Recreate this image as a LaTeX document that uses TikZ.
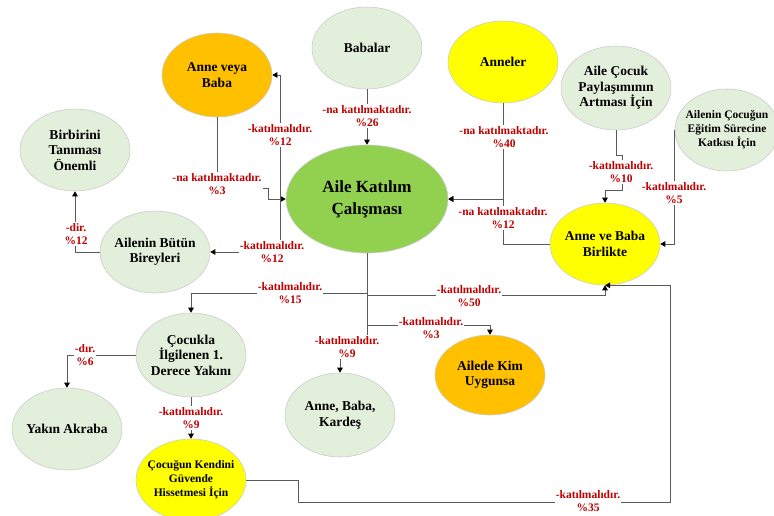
\documentclass[tikz,border=0pt]{standalone}
\usepackage{fontspec}
\setmainfont{Liberation Serif}
\usetikzlibrary{shapes.geometric,arrows.meta}
\definecolor{lgr}{HTML}{E2EFDA}
\definecolor{org}{HTML}{FFC000}
\definecolor{yel}{HTML}{FFFF00}
\definecolor{grn}{HTML}{92D050}
\definecolor{lred}{HTML}{C00000}
\definecolor{lgray}{HTML}{5A5A5A}
\begin{document}
\begin{tikzpicture}[x=1pt,y=-1pt,
 ell/.style={ellipse, draw=black!20, line width=0.6pt, inner xsep=-6pt, inner ysep=0pt,
   minimum width=110pt, minimum height=82pt, align=center,
   font=\bfseries\fontsize{13.5}{15.5}\selectfont},
 small/.style={font=\bfseries\fontsize{11.5}{14}\selectfont},
 lbl/.style={fill=white, inner sep=1pt, align=center, text=lred,
   font=\bfseries\fontsize{11.5}{13}\selectfont},
 conn/.style={draw=lgray, line width=0.9pt, -{Triangle[length=5pt,width=5.5pt,color=black]}},
 ]
\useasboundingbox (0,0) rectangle (774,515);
% nodes
\node[ell, fill=lgr] (bab) at (367,48) {Babalar};
\node[ell, fill=org, minimum height=84pt] (avb) at (217,75) {Anne veya\\Baba};
\node[ell, fill=yel] (ann) at (503,62) {Anneler};
\node[ell, fill=lgr, minimum height=84pt] (acp) at (616,88) {Aile Çocuk\\Paylaşımının\\Artması İçin};
\node[ell, fill=lgr, small, minimum width=104pt] (ace) at (727,130) {Ailenin Çocuğun\\Eğitim Sürecine\\Katkısı İçin};
\node[ell, fill=grn, minimum width=162pt, minimum height=108pt, font=\bfseries\fontsize{17}{22}\selectfont] (g) at (367,199) {Aile Katılım\\Çalışması};
\node[ell, fill=yel] (abb) at (605,244) {Anne ve Baba\\Birlikte};
\node[ell, fill=lgr] (bir) at (75,150) {Birbirini\\Tanıması\\Önemli};
\node[ell, fill=lgr] (aab) at (155,252) {Ailenin Bütün\\Bireyleri};
\node[ell, fill=lgr, minimum height=84pt] (coc) at (191,355) {Çocukla\\İlgilenen 1.\\Derece Yakını};
\node[ell, fill=lgr] (yak) at (67,429) {Yakın Akraba};
\node[ell, fill=yel, small] (ckg) at (191,480) {Çocuğun Kendini\\Güvende\\Hissetmesi İçin};
\node[ell, fill=lgr, minimum height=84pt] (abk) at (340,415) {Anne, Baba,\\Kardeş};
\node[ell, fill=org, minimum height=80pt] (aku) at (490,375) {Ailede Kim\\Uygunsa};
% elbow coordinates
\coordinate (gw) at (280,199);
\coordinate (j1) at (268,188);
\coordinate (ja) at (503,199);
\coordinate (jc) at (622,155);
\coordinate (jd) at (605,190);
\coordinate (t1) at (367,293);
\coordinate (t2) at (367,295);
\coordinate (t3) at (367,325);
\coordinate (t4) at (367,345);
\coordinate (c1) at (298,502);
\coordinate (c2) at (670,502);
% connectors
\draw[conn] (bab) -- (g);
\draw[conn] (avb.south) |- (j1) |- (g.west);
\draw[conn] (gw) |- (avb.east);
\draw[conn] (gw) |- (aab.east);
\draw[conn] (ann.south) |- (g.east);
\draw[conn] (abb.west) -| (ja) -- (g.east);
\draw[conn] (acp.south) |- (jc) |- (jd) -- (abb.north);
\draw[conn] (ace.west) |- (abb.east);
\draw[conn] (aab.west) -| (bir.south);
\draw[conn] (g.south) -- (t1) -| (coc.north);
\draw[conn] (g.south) -- (t2) -| (abb.south);
\draw[conn] (g.south) -- (t3) -| (aku.north);
\draw[conn] (g.south) -- (t4) -| (abk.north);
\draw[conn] (coc.west) -| (yak.north);
\draw[conn] (coc) -- (ckg);
\draw[conn] (ckg.east) -| (c1) -- (c2) |- (abb.south);
% labels
\node[lbl] (l26) at (367,116) {-na katılmaktadır.\\\%26};
\node[lbl] (l12a) at (280,135) {-katılmalıdır.\\\%12};
\node[lbl] (l3) at (217,184) {-na katılmaktadır.\\\%3};
\node[lbl] (l40) at (504,137) {-na katılmaktadır.\\\%40};
\node[lbl] (l12b) at (503,218) {-na katılmaktadır.\\\%12};
\node[lbl] (l10) at (621,172) {-katılmalıdır.\\\%10};
\node[lbl] (l5) at (674,193) {-katılmalıdır.\\\%5};
\node[lbl] (l12c) at (272,252) {-katılmalıdır.\\\%12};
\node[lbl] (ld12) at (76,234) {-dir.\\\%12};
\node[lbl] (l15) at (290,293) {-katılmalıdır.\\\%15};
\node[lbl] (l50) at (469,296) {-katılmalıdır.\\\%50};
\node[lbl] (l3b) at (431,328) {-katılmalıdır.\\\%3};
\node[lbl] (l9) at (347,347) {-katılmalıdır.\\\%9};
\node[lbl] (l6) at (85,355) {-dır.\\\%6};
\node[lbl] (l9b) at (191,418) {-katılmalıdır.\\\%9};
\node[lbl] (l35) at (588,501) {-katılmalıdır.\\\%35};
\end{tikzpicture}
\end{document}
